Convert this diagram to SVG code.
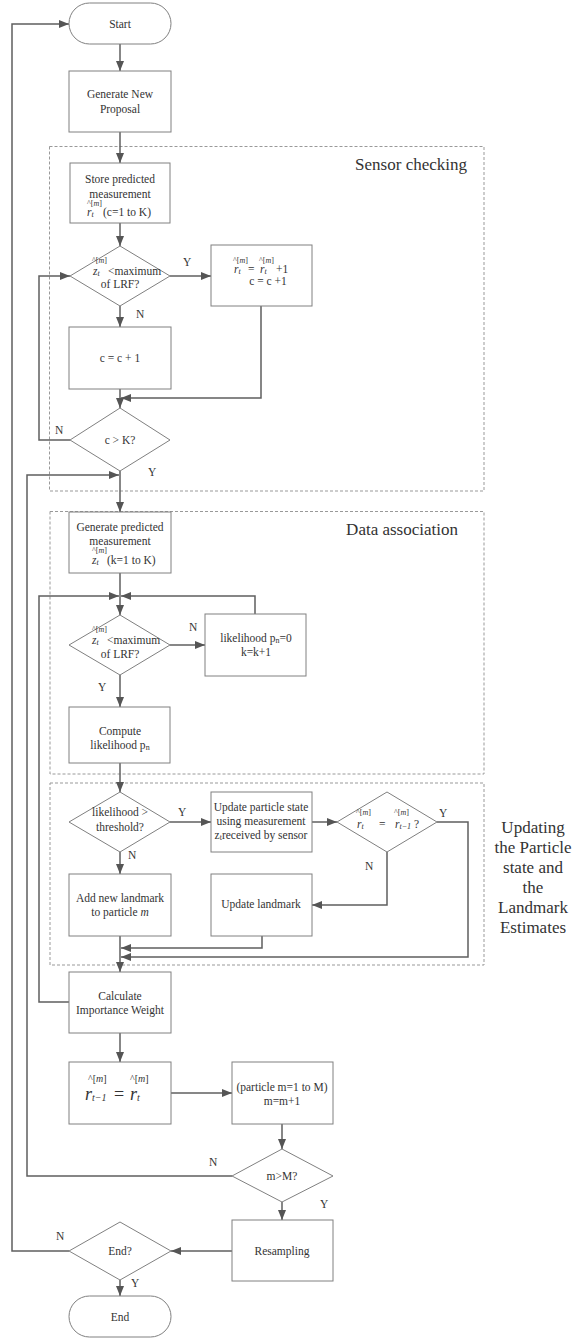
<svg xmlns="http://www.w3.org/2000/svg" width="580" height="1340" viewBox="0 0 580 1340">
<defs>
<marker id="ah" markerUnits="userSpaceOnUse" markerWidth="10" markerHeight="8" viewBox="0 0 10 8" refX="10" refY="4" orient="auto"><path d="M0,0 L10,4 L0,8 z" fill="#555"/></marker>
<style>
.box{fill:#fff;stroke:#808080;stroke-width:1}
.grp{fill:none;stroke:#999;stroke-width:1;stroke-dasharray:3,2}
.c{fill:none;stroke:#5f5f5f;stroke-width:1.5}
.a{marker-end:url(#ah)}
text{font-family:"Liberation Serif","Times New Roman",serif;font-size:11.5px;fill:#333}
.m{text-anchor:middle}
.big{font-size:17px}
.sup{font-size:8px}
.it{font-style:italic}
.lbl{font-size:11.5px}
</style>
</defs>
<g id="groups">
<rect class="grp" x="49.5" y="146.5" width="434.5" height="344.5"/>
<text class="big" x="467" y="170" text-anchor="end">Sensor checking</text>
<rect class="grp" x="50" y="511.5" width="434" height="262.5"/>
<text class="big" x="458" y="535" text-anchor="end">Data association</text>
<rect class="grp" x="50" y="783" width="434" height="182"/>
<text class="big m" x="533" y="833">Updating</text>
<text class="big m" x="533" y="853">the Particle</text>
<text class="big m" x="533" y="873">state and</text>
<text class="big m" x="533" y="893">the</text>
<text class="big m" x="533" y="913">Landmark</text>
<text class="big m" x="533" y="933">Estimates</text>
</g>
<g id="connectors">
<path class="c a" d="M120,44 V71"/>
<path class="c a" d="M120,132 V163"/>
<path class="c a" d="M120,223 V246"/>
<path class="c a" d="M170,276 H211"/>
<path class="c a" d="M120,306 V327"/>
<path class="c a" d="M261,306 V398 H121"/>
<path class="c a" d="M120,389 V408"/>
<path class="c a" d="M70,440 H39 V276 H70"/>
<path class="c a" d="M120,471 V512"/>
<path class="c a" d="M232,1176 H27 V475 H119"/>
<path class="c a" d="M120,573 V615"/>
<path class="c a" d="M255,614 V596 H121"/>
<path class="c a" d="M69,1002 H39 V596 H119"/>
<path class="c a" d="M170,645 H205"/>
<path class="c a" d="M120,675 V707"/>
<path class="c a" d="M120,763 V792"/>
<path class="c a" d="M170,822 H211"/>
<path class="c a" d="M312,822 H337"/>
<path class="c a" d="M437,822 H468 V957 H121"/>
<path class="c a" d="M387,852 V905 H312"/>
<path class="c a" d="M262,936 V948 H121"/>
<path class="c a" d="M120,852 V874"/>
<path class="c a" d="M120,936 V972"/>
<path class="c a" d="M120,1033 V1062"/>
<path class="c a" d="M171,1093 H232"/>
<path class="c a" d="M282,1124 V1149"/>
<path class="c a" d="M282,1202 V1220"/>
<path class="c a" d="M232,1251 H171"/>
<path class="c a" d="M69,1251 H12 V24 H69"/>
<path class="c a" d="M120,1280 V1296"/>
<text class="lbl" x="183" y="266">Y</text>
<text class="lbl" x="136" y="318">N</text>
<text class="lbl" x="55" y="434">N</text>
<text class="lbl" x="148" y="476">Y</text>
<text class="lbl" x="189" y="631">N</text>
<text class="lbl" x="98" y="691">Y</text>
<text class="lbl" x="178" y="816">Y</text>
<text class="lbl" x="128" y="859">N</text>
<text class="lbl" x="439" y="817">Y</text>
<text class="lbl" x="365" y="870">N</text>
<text class="lbl" x="209" y="1166">N</text>
<text class="lbl" x="320" y="1208">Y</text>
<text class="lbl" x="56" y="1240">N</text>
<text class="lbl" x="131" y="1287">Y</text>
</g>
<g id="start">
<rect class="box" x="69" y="3" width="102" height="41" rx="20.5"/>
<text class="m" x="120" y="28">Start</text>
</g>
<g id="generate-proposal">
<rect class="box" x="69" y="71" width="102" height="61"/>
<text class="m" x="120" y="98">Generate New</text>
<text class="m" x="120" y="113">Proposal</text>
</g>
<g id="store-predicted">
<rect class="box" x="70" y="163" width="100" height="60"/>
<text class="m" x="120" y="183">Store predicted</text>
<text class="m" x="120" y="198">measurement</text>
<text><tspan class="sup" x="87" y="206">^[<tspan class="it">m</tspan>]</tspan><tspan class="it" x="87" y="216">r</tspan><tspan class="sup it" dy="1">t</tspan><tspan x="103" y="216">(c=1 to K)</tspan></text>
</g>
<g id="check-lrf-1">
<polygon class="box" points="120,246 170,276 120,306 70,276"/>
<text><tspan class="sup" x="92" y="263">^[<tspan class="it">m</tspan>]</tspan><tspan class="it" x="93" y="275">z</tspan><tspan class="sup it" dy="1">t</tspan><tspan x="108" y="275">&lt;maximum</tspan></text>
<text class="m" x="120" y="288">of LRF?</text>
</g>
<g id="increment-r">
<rect class="box" x="211" y="245" width="101" height="61"/>
<text><tspan class="sup" x="233" y="263">^[<tspan class="it">m</tspan>]</tspan><tspan class="it" x="234" y="273">r</tspan><tspan class="sup it" dy="1">t</tspan><tspan x="248" y="273">=</tspan><tspan class="sup" x="259" y="263">^[<tspan class="it">m</tspan>]</tspan><tspan class="it" x="260" y="273">r</tspan><tspan class="sup it" dy="1">t</tspan><tspan x="276" y="273">+1</tspan></text>
<text class="m" x="268" y="285">c  =  c  +1</text>
</g>
<g id="increment-c">
<rect class="box" x="69" y="327" width="102" height="62"/>
<text class="m" x="120" y="362">c = c + 1</text>
</g>
<g id="c-gt-k">
<polygon class="box" points="120,408 170,440 120,471 70,440"/>
<text class="m" x="120" y="444">c &gt; K?</text>
</g>
<g id="generate-predicted">
<rect class="box" x="69" y="512" width="102" height="61"/>
<text class="m" x="120" y="531">Generate predicted</text>
<text class="m" x="120" y="545">measurement</text>
<text><tspan class="sup" x="92" y="553">^[<tspan class="it">m</tspan>]</tspan><tspan class="it" x="92" y="564">z</tspan><tspan class="sup it" dy="1">t</tspan><tspan x="107" y="564">(k=1 to K)</tspan></text>
</g>
<g id="check-lrf-2">
<polygon class="box" points="120,615 170,645 120,675 69,645"/>
<text><tspan class="sup" x="92" y="632">^[<tspan class="it">m</tspan>]</tspan><tspan class="it" x="92" y="644">z</tspan><tspan class="sup it" dy="1">t</tspan><tspan x="107" y="644">&lt;maximum</tspan></text>
<text class="m" x="120" y="658">of LRF?</text>
</g>
<g id="likelihood-zero">
<rect class="box" x="205" y="614" width="101" height="62"/>
<text class="m" x="256" y="642">likelihood p<tspan class="sup" dy="1">n</tspan><tspan dy="-1">=0</tspan></text>
<text class="m" x="256" y="656">k=k+1</text>
</g>
<g id="compute-likelihood">
<rect class="box" x="69" y="707" width="101" height="56"/>
<text class="m" x="120" y="735">Compute</text>
<text class="m" x="120" y="749">likelihood p<tspan class="sup" dy="1">n</tspan></text>
</g>
<g id="likelihood-threshold">
<polygon class="box" points="120,792 170,822 120,852 69,822"/>
<text class="m" x="120" y="816">likelihood &gt;</text>
<text class="m" x="120" y="831">threshold?</text>
</g>
<g id="update-particle">
<rect class="box" x="211" y="792" width="101" height="60"/>
<text class="m" x="261" y="811">Update particle state</text>
<text class="m" x="261" y="825">using measurement</text>
<text class="m" x="261" y="839">z<tspan class="sup" dy="1">t</tspan><tspan dy="-1">received by sensor</tspan></text>
</g>
<g id="r-equal">
<polygon class="box" points="387,792 437,822 387,852 337,822"/>
<text><tspan class="sup" x="356" y="815">^[<tspan class="it">m</tspan>]</tspan><tspan class="it" x="357" y="828">r</tspan><tspan class="sup it" dy="1">t</tspan><tspan x="379" y="828">=</tspan><tspan class="sup" x="394" y="815">^[<tspan class="it">m</tspan>]</tspan><tspan class="it" x="395" y="828">r</tspan><tspan class="sup it" dy="1">t−1</tspan><tspan x="414" y="828">?</tspan></text>
</g>
<g id="add-landmark">
<rect class="box" x="69" y="874" width="102" height="62"/>
<text class="m" x="120" y="902">Add new landmark</text>
<text class="m" x="120" y="916">to particle <tspan class="it">m</tspan></text>
</g>
<g id="update-landmark">
<rect class="box" x="211" y="874" width="101" height="62"/>
<text class="m" x="261" y="908">Update landmark</text>
</g>
<g id="importance-weight">
<rect class="box" x="69" y="972" width="102" height="61"/>
<text class="m" x="120" y="1000">Calculate</text>
<text class="m" x="120" y="1014">Importance Weight</text>
</g>
<g id="r-assign">
<rect class="box" x="69" y="1062" width="102" height="62"/>
<text style="font-size:18px"><tspan style="font-size:10px" x="88" y="1082">^[<tspan class="it">m</tspan>]</tspan><tspan class="it" x="85" y="1100">r</tspan><tspan class="it" style="font-size:10px" dy="1">t−1</tspan><tspan x="114" y="1100">=</tspan><tspan style="font-size:10px" x="130" y="1082">^[<tspan class="it">m</tspan>]</tspan><tspan class="it" x="130" y="1100">r</tspan><tspan class="it" style="font-size:10px" dy="1">t</tspan></text>
</g>
<g id="particle-loop">
<rect class="box" x="232" y="1062" width="101" height="62"/>
<text class="m" x="282" y="1091">(particle m=1 to M)</text>
<text class="m" x="282" y="1105">m=m+1</text>
</g>
<g id="m-gt-M">
<polygon class="box" points="282,1149 333,1176 282,1202 232,1176"/>
<text class="m" x="282" y="1180">m&gt;M?</text>
</g>
<g id="resampling">
<rect class="box" x="232" y="1220" width="101" height="61"/>
<text class="m" x="282" y="1255">Resampling</text>
</g>
<g id="end-check">
<polygon class="box" points="120,1222 171,1251 120,1280 69,1251"/>
<text class="m" x="120" y="1255">End?</text>
</g>
<g id="end">
<rect class="box" x="69" y="1296" width="102" height="41" rx="20.5"/>
<text class="m" x="120" y="1321">End</text>
</g>
</svg>
